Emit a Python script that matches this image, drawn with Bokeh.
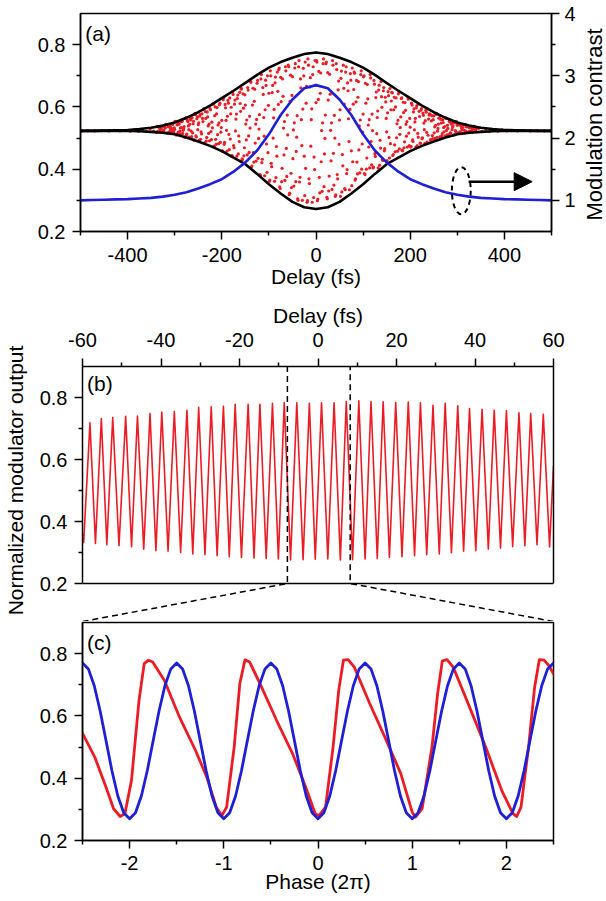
import math
from bokeh.plotting import figure
from bokeh.models import FixedTicker, LinearAxis, Range1d, Label, Span, Arrow, NormalHead
from bokeh.layouts import column, row
from bokeh.embed import file_html
from bokeh.resources import INLINE

FONT = "Liberation Sans"
RED = "#ec1c24"
BLUE = "#1f1fd6"
BLACK = "#000000"
LW = 1.5

# ---------------- panel (a): envelopes, contrast, sampled points ----------------
A_T = [-500, -475, -450, -425, -400, -375, -350, -325, -300, -275, -250, -225, -200,
       -175, -150, -125, -100, -75, -50, -25, 0, 25, 50, 75, 100, 125, 150, 175, 200,
       225, 250, 275, 300, 325, 350, 375, 400, 425, 450, 475, 500]
A_UPPER = [0.523, 0.523, 0.524, 0.525, 0.526, 0.529, 0.533, 0.540, 0.550, 0.565, 0.583,
           0.604, 0.628, 0.652, 0.677, 0.703, 0.726, 0.744, 0.758, 0.770, 0.775,
           0.770, 0.758, 0.744, 0.726, 0.703, 0.677, 0.652, 0.628, 0.604, 0.583,
           0.565, 0.550, 0.540, 0.533, 0.529, 0.526, 0.525, 0.524, 0.523, 0.523]
A_LOWER = [0.523, 0.523, 0.523, 0.523, 0.523, 0.522, 0.520, 0.517, 0.512, 0.502, 0.489,
           0.475, 0.458, 0.437, 0.416, 0.385, 0.352, 0.322, 0.295, 0.278, 0.272,
           0.278, 0.295, 0.322, 0.352, 0.385, 0.416, 0.437, 0.458, 0.475, 0.489,
           0.502, 0.512, 0.517, 0.520, 0.522, 0.523, 0.523, 0.523, 0.523, 0.523]
A_CONTRAST = [1.00, 1.005, 1.01, 1.015, 1.02, 1.03, 1.04, 1.06, 1.09, 1.13, 1.19,
              1.26, 1.34, 1.46, 1.61, 1.80, 2.06, 2.37, 2.62, 2.80, 2.85,
              2.80, 2.62, 2.37, 2.06, 1.80, 1.61, 1.46, 1.34, 1.26, 1.19,
              1.13, 1.09, 1.06, 1.04, 1.03, 1.02, 1.015, 1.01, 1.005, 1.00]

DOT_T = [
    -339, -337, -334, -332, -331, -329, -326, -325, -323, -321, -338, -336, -335, -333, -330, -328, -327, -324, -322, -320,
    -319, -317, -314, -312, -311, -309, -306, -305, -303, -301, -318, -316, -315, -313, -310, -308, -307, -304, -302, -300,
    -299, -297, -294, -292, -291, -289, -286, -285, -283, -281, -298, -296, -295, -293, -290, -288, -287, -284, -282, -280,
    -279, -277, -274, -272, -271, -269, -266, -265, -263, -261, -278, -276, -275, -273, -270, -268, -267, -264, -262, -260,
    -259, -257, -254, -252, -251, -249, -246, -245, -243, -241, -258, -256, -255, -253, -250, -248, -247, -244, -242, -240,
    -239, -237, -234, -232, -231, -229, -226, -225, -223, -221, -238, -236, -235, -233, -230, -228, -227, -224, -222, -220,
    -219, -217, -214, -212, -211, -209, -206, -205, -203, -201, -218, -216, -215, -213, -210, -208, -207, -204, -202, -200,
    -199, -197, -194, -192, -191, -189, -186, -185, -183, -181, -198, -196, -195, -193, -190, -188, -187, -184, -182, -180,
    -179, -177, -174, -172, -171, -169, -166, -165, -163, -161, -178, -176, -175, -173, -170, -168, -167, -164, -162, -160,
    -159, -157, -154, -152, -151, -149, -146, -145, -143, -141, -158, -156, -155, -153, -150, -148, -147, -144, -142, -140,
    -139, -137, -134, -132, -131, -129, -126, -125, -123, -121, -138, -136, -135, -133, -130, -128, -127, -124, -122, -120,
    -119, -117, -114, -112, -111, -109, -106, -105, -103, -101, -118, -116, -115, -113, -110, -108, -107, -104, -102, -100,
    -99, -97, -94, -92, -91, -89, -86, -85, -83, -81, -98, -96, -95, -93, -90, -88, -87, -84, -82, -80,
    -79, -77, -74, -72, -71, -69, -66, -65, -63, -61, -78, -76, -75, -73, -70, -68, -67, -64, -62, -60,
    -59, -57, -54, -52, -51, -49, -46, -45, -43, -41, -58, -56, -55, -53, -50, -48, -47, -44, -42, -40,
    -39, -37, -34, -32, -31, -29, -26, -25, -23, -21, -38, -36, -35, -33, -30, -28, -27, -24, -22, -20,
    -19, -17, -14, -12, -11, -9, -6, -5, -3, -1, -18, -16, -15, -13, -10, -8, -7, -4, -2, 0,
    1, 3, 6, 8, 9, 11, 14, 15, 17, 19, 2, 4, 5, 7, 10, 12, 13, 16, 18, 20,
    21, 23, 26, 28, 29, 31, 34, 35, 37, 39, 22, 24, 25, 27, 30, 32, 33, 36, 38, 40,
    41, 43, 46, 48, 49, 51, 54, 55, 57, 59, 42, 44, 45, 47, 50, 52, 53, 56, 58, 60,
    61, 63, 66, 68, 69, 71, 74, 75, 77, 79, 62, 64, 65, 67, 70, 72, 73, 76, 78, 80,
    81, 83, 86, 88, 89, 91, 94, 95, 97, 99, 82, 84, 85, 87, 90, 92, 93, 96, 98, 100,
    101, 103, 106, 108, 109, 111, 114, 115, 117, 119, 102, 104, 105, 107, 110, 112, 113, 116, 118, 120,
    121, 123, 126, 128, 129, 131, 134, 135, 137, 139, 122, 124, 125, 127, 130, 132, 133, 136, 138, 140,
    141, 143, 146, 148, 149, 151, 154, 155, 157, 159, 142, 144, 145, 147, 150, 152, 153, 156, 158, 160,
    161, 163, 166, 168, 169, 171, 174, 175, 177, 179, 162, 164, 165, 167, 170, 172, 173, 176, 178, 180,
    181, 183, 186, 188, 189, 191, 194, 195, 197, 199, 182, 184, 185, 187, 190, 192, 193, 196, 198, 200,
    201, 203, 206, 208, 209, 211, 214, 215, 217, 219, 202, 204, 205, 207, 210, 212, 213, 216, 218, 220,
    221, 223, 226, 228, 229, 231, 234, 235, 237, 239, 222, 224, 225, 227, 230, 232, 233, 236, 238, 240,
    241, 243, 246, 248, 249, 251, 254, 255, 257, 259, 242, 244, 245, 247, 250, 252, 253, 256, 258, 260,
    261, 263, 266, 268, 269, 271, 274, 275, 277, 279, 262, 264, 265, 267, 270, 272, 273, 276, 278, 280,
    281, 283, 286, 288, 289, 291, 294, 295, 297, 299, 282, 284, 285, 287, 290, 292, 293, 296, 298, 300,
    301, 303, 306, 308, 309, 311, 314, 315, 317, 319, 302, 304, 305, 307, 310, 312, 313, 316, 318, 320,
    321, 323, 326, 328, 329, 331, 334, 335, 337, 339, 322, 324, 325, 327, 330, 332, 333, 336, 338, 340,
    -498, -485, -470, -455, -440, -428, -416, -405, -395, -386, -377, -368, -360, -352, -345,
    345, 352, 360, 368, 377, 386, 395, 405, 416, 428, 440, 455, 470, 485, 498,
]
DOT_Y = [
    0.519, 0.538, 0.521, 0.536, 0.526, 0.531, 0.537, 0.519, 0.523, 0.535, 0.519, 0.537, 0.522, 0.534, 0.530, 0.519, 0.536, 0.525, 0.538, 0.532,
    0.544, 0.516, 0.536, 0.520, 0.542, 0.530, 0.518, 0.545, 0.525, 0.533, 0.544, 0.516, 0.542, 0.517, 0.538, 0.524, 0.532, 0.544, 0.518, 0.528,
    0.554, 0.510, 0.550, 0.513, 0.544, 0.522, 0.534, 0.553, 0.515, 0.530, 0.553, 0.511, 0.542, 0.518, 0.550, 0.532, 0.513, 0.554, 0.525, 0.537,
    0.503, 0.563, 0.513, 0.553, 0.539, 0.503, 0.558, 0.522, 0.565, 0.546, 0.503, 0.565, 0.511, 0.557, 0.527, 0.544, 0.562, 0.505, 0.517, 0.554,
    0.493, 0.579, 0.504, 0.568, 0.527, 0.549, 0.575, 0.496, 0.513, 0.563, 0.494, 0.575, 0.507, 0.562, 0.543, 0.493, 0.570, 0.520, 0.578, 0.553,
    0.593, 0.485, 0.563, 0.502, 0.584, 0.539, 0.491, 0.595, 0.521, 0.551, 0.594, 0.484, 0.585, 0.490, 0.568, 0.515, 0.545, 0.591, 0.495, 0.533,
    0.610, 0.473, 0.600, 0.480, 0.578, 0.511, 0.549, 0.607, 0.486, 0.534, 0.609, 0.474, 0.572, 0.496, 0.598, 0.542, 0.482, 0.612, 0.519, 0.557,
    0.459, 0.623, 0.486, 0.597, 0.557, 0.458, 0.612, 0.512, 0.629, 0.578, 0.458, 0.630, 0.480, 0.608, 0.525, 0.570, 0.621, 0.463, 0.497, 0.599,
    0.442, 0.649, 0.469, 0.622, 0.523, 0.577, 0.638, 0.449, 0.489, 0.611, 0.444, 0.640, 0.476, 0.609, 0.561, 0.442, 0.627, 0.507, 0.647, 0.586,
    0.657, 0.433, 0.596, 0.469, 0.639, 0.545, 0.446, 0.662, 0.507, 0.570, 0.659, 0.431, 0.642, 0.443, 0.606, 0.494, 0.558, 0.654, 0.454, 0.532,
    0.682, 0.407, 0.660, 0.423, 0.618, 0.484, 0.560, 0.676, 0.435, 0.529, 0.679, 0.410, 0.606, 0.453, 0.657, 0.545, 0.426, 0.685, 0.499, 0.575,
    0.383, 0.690, 0.432, 0.640, 0.566, 0.379, 0.669, 0.481, 0.700, 0.605, 0.379, 0.704, 0.421, 0.662, 0.506, 0.591, 0.686, 0.390, 0.453, 0.644,
    0.361, 0.716, 0.408, 0.669, 0.500, 0.592, 0.696, 0.373, 0.442, 0.650, 0.365, 0.700, 0.419, 0.646, 0.565, 0.361, 0.677, 0.473, 0.712, 0.608,
    0.720, 0.343, 0.617, 0.403, 0.690, 0.532, 0.364, 0.729, 0.467, 0.574, 0.725, 0.338, 0.695, 0.360, 0.634, 0.446, 0.553, 0.716, 0.377, 0.510,
    0.734, 0.318, 0.702, 0.341, 0.637, 0.434, 0.549, 0.725, 0.360, 0.503, 0.729, 0.323, 0.618, 0.387, 0.697, 0.526, 0.346, 0.739, 0.457, 0.572,
    0.305, 0.729, 0.374, 0.661, 0.559, 0.300, 0.700, 0.442, 0.744, 0.612, 0.300, 0.749, 0.359, 0.690, 0.476, 0.593, 0.724, 0.315, 0.403, 0.666,
    0.294, 0.754, 0.354, 0.694, 0.474, 0.594, 0.729, 0.309, 0.399, 0.669, 0.299, 0.734, 0.369, 0.664, 0.559, 0.294, 0.704, 0.439, 0.749, 0.614,
    0.749, 0.299, 0.714, 0.324, 0.644, 0.424, 0.549, 0.739, 0.344, 0.499, 0.744, 0.304, 0.624, 0.374, 0.709, 0.524, 0.329, 0.754, 0.449, 0.574,
    0.739, 0.310, 0.622, 0.378, 0.705, 0.525, 0.335, 0.749, 0.451, 0.573, 0.744, 0.305, 0.710, 0.330, 0.641, 0.427, 0.549, 0.734, 0.349, 0.500,
    0.313, 0.739, 0.369, 0.683, 0.480, 0.591, 0.715, 0.327, 0.411, 0.660, 0.318, 0.720, 0.383, 0.655, 0.558, 0.313, 0.692, 0.447, 0.734, 0.609,
    0.338, 0.712, 0.399, 0.652, 0.562, 0.334, 0.686, 0.459, 0.725, 0.609, 0.334, 0.729, 0.386, 0.677, 0.489, 0.592, 0.707, 0.347, 0.424, 0.656,
    0.712, 0.365, 0.685, 0.385, 0.631, 0.462, 0.558, 0.704, 0.400, 0.519, 0.708, 0.369, 0.616, 0.423, 0.681, 0.539, 0.388, 0.716, 0.481, 0.577,
    0.697, 0.386, 0.612, 0.436, 0.672, 0.542, 0.404, 0.704, 0.489, 0.577, 0.700, 0.383, 0.676, 0.400, 0.626, 0.471, 0.559, 0.693, 0.414, 0.524,
    0.404, 0.685, 0.441, 0.648, 0.514, 0.587, 0.670, 0.413, 0.468, 0.633, 0.407, 0.673, 0.450, 0.630, 0.566, 0.404, 0.654, 0.493, 0.682, 0.599,
    0.431, 0.652, 0.466, 0.616, 0.563, 0.428, 0.636, 0.502, 0.659, 0.591, 0.428, 0.662, 0.459, 0.631, 0.520, 0.581, 0.649, 0.436, 0.482, 0.619,
    0.647, 0.444, 0.631, 0.456, 0.600, 0.501, 0.557, 0.642, 0.465, 0.534, 0.645, 0.447, 0.591, 0.478, 0.629, 0.546, 0.458, 0.649, 0.512, 0.568,
    0.627, 0.461, 0.582, 0.488, 0.614, 0.544, 0.471, 0.630, 0.516, 0.563, 0.629, 0.459, 0.615, 0.469, 0.589, 0.506, 0.553, 0.625, 0.476, 0.535,
    0.471, 0.612, 0.489, 0.594, 0.526, 0.563, 0.604, 0.476, 0.503, 0.586, 0.473, 0.606, 0.494, 0.584, 0.552, 0.471, 0.597, 0.515, 0.610, 0.569,
    0.484, 0.590, 0.501, 0.573, 0.548, 0.483, 0.583, 0.518, 0.594, 0.561, 0.483, 0.595, 0.498, 0.580, 0.527, 0.556, 0.589, 0.487, 0.509, 0.574,
    0.578, 0.494, 0.572, 0.498, 0.559, 0.517, 0.541, 0.576, 0.502, 0.531, 0.577, 0.495, 0.555, 0.508, 0.571, 0.536, 0.499, 0.579, 0.522, 0.545,
    0.564, 0.504, 0.548, 0.514, 0.559, 0.534, 0.507, 0.565, 0.524, 0.541, 0.565, 0.503, 0.560, 0.507, 0.550, 0.520, 0.537, 0.563, 0.510, 0.531,
    0.510, 0.554, 0.516, 0.548, 0.527, 0.539, 0.552, 0.511, 0.520, 0.546, 0.510, 0.552, 0.517, 0.545, 0.535, 0.510, 0.549, 0.524, 0.554, 0.541,
    0.516, 0.543, 0.520, 0.539, 0.532, 0.515, 0.542, 0.525, 0.544, 0.536, 0.515, 0.545, 0.519, 0.541, 0.527, 0.534, 0.543, 0.516, 0.522, 0.539,
    0.538, 0.519, 0.536, 0.520, 0.534, 0.524, 0.530, 0.538, 0.521, 0.527, 0.538, 0.519, 0.533, 0.522, 0.536, 0.529, 0.520, 0.538, 0.525, 0.531,
    0.523, 0.524, 0.523, 0.524, 0.523, 0.525, 0.523, 0.525, 0.522, 0.526, 0.522, 0.528, 0.521, 0.530, 0.522,
    0.531, 0.521, 0.529, 0.521, 0.527, 0.522, 0.526, 0.523, 0.525, 0.523, 0.524, 0.523, 0.524, 0.523, 0.523,
]

A_X_TICKS = [-400, -200, 0, 200, 400]
A_X_LABELS = ["-400", "-200", "0", "200", "400"]
A_X_MINOR = [-500, -300, -100, 100, 300, 500]
Y_TICKS = [0.2, 0.4, 0.6, 0.8]
Y_LABELS = ["0.2", "0.4", "0.6", "0.8"]
Y_MINOR = [0.3, 0.5, 0.7]
A_R_TICKS = [1, 2, 3, 4]
A_R_LABELS = ["1", "2", "3", "4"]
A_R_MINOR = [1.5, 2.5, 3.5]

# dashed ellipse marker and arrow pointing to the right axis (delay fs, left-axis units)
MARK_X, MARK_Y, MARK_W, MARK_H = 308.5, 0.331, 40.0, 0.151
ARROW_X0, ARROW_X1, ARROW_Y = 324.0, 459.0, 0.360

# ---------------- panel (b): fringe peaks and troughs ----------------
B_PEAK_T = [-58.1, -55.2, -52.3, -49.0, -46.0, -42.8, -39.8, -36.6, -33.4, -30.4,
            -27.2, -24.1, -21.1, -17.8, -14.8, -11.6, -8.6, -5.4, -2.2, 0.9,
            4.1, 7.2, 10.4, 13.5, 16.6, 19.8, 23.0, 26.1, 29.3, 32.4,
            35.6, 38.6, 41.8, 44.9, 48.0, 51.2, 54.2, 57.4]
B_PEAK_V = [0.718, 0.732, 0.735, 0.739, 0.740, 0.748, 0.753, 0.755, 0.759, 0.768,
            0.770, 0.772, 0.778, 0.778, 0.778, 0.781, 0.784, 0.783, 0.781, 0.783,
            0.783, 0.787, 0.789, 0.787, 0.786, 0.784, 0.785, 0.783, 0.775, 0.781,
            0.773, 0.764, 0.762, 0.759, 0.757, 0.751, 0.748, 0.746]
B_TROUGH_T = [-59.7, -56.7, -53.8, -50.7, -47.5, -44.4, -41.3, -38.2, -35.0, -31.9,
              -28.8, -25.7, -22.6, -19.5, -16.3, -13.2, -10.1, -7.0, -3.8, -0.7,
              2.5, 5.7, 8.8, 12.0, 15.1, 18.2, 21.4, 24.6, 27.7, 30.9,
              34.0, 37.1, 40.2, 43.4, 46.5, 49.6, 52.7, 55.8, 59.0]
B_TROUGH_V = [0.333, 0.329, 0.325, 0.322, 0.319, 0.311, 0.306, 0.304, 0.300, 0.295,
              0.293, 0.290, 0.286, 0.284, 0.282, 0.281, 0.279, 0.276, 0.277, 0.278,
              0.279, 0.276, 0.277, 0.279, 0.281, 0.284, 0.286, 0.290, 0.293, 0.295,
              0.299, 0.304, 0.306, 0.311, 0.314, 0.319, 0.322, 0.325, 0.318]
B_EDGE_T = [-60.0, 60.0]
B_EDGE_V = [0.36, 0.58]
B_X_TICKS = [-60, -40, -20, 0, 20, 40, 60]
B_X_LABELS = ["-60", "-40", "-20", "0", "20", "40", "60"]
B_X_MINOR = [-50, -30, -10, 10, 30, 50]
ZOOM_LO, ZOOM_HI = -7.8, 8.2   # delay window shown in panel (c)

# ---------------- panel (c): phase-domain traces ----------------
C_RED_X = [-2.52, -2.37, -2.25, -2.17, -2.10, -2.05, -1.98, -1.90, -1.845, -1.80, -1.755,
           -1.63, -1.47, -1.30, -1.18, -1.08, -1.02, -0.97, -0.89, -0.83, -0.775, -0.725,
           -0.60, -0.44, -0.27, -0.13, -0.03, 0.01, 0.08, 0.16, 0.22, 0.27, 0.32, 0.385,
           0.55, 0.71, 0.88, 1.00, 1.035, 1.105, 1.21, 1.27, 1.32, 1.37, 1.435,
           1.58, 1.78, 1.95, 2.07, 2.11, 2.155, 2.235, 2.30, 2.35, 2.40, 2.45, 2.52]
C_RED_Y = [0.556, 0.468, 0.371, 0.302, 0.277, 0.286, 0.393, 0.650, 0.768, 0.779, 0.773,
           0.714, 0.596, 0.489, 0.403, 0.307, 0.280, 0.307, 0.500, 0.704, 0.780, 0.773,
           0.693, 0.586, 0.479, 0.371, 0.286, 0.280, 0.307, 0.500, 0.682, 0.779, 0.781, 0.757,
           0.639, 0.532, 0.414, 0.291, 0.275, 0.302, 0.500, 0.672, 0.777, 0.781, 0.757,
           0.650, 0.500, 0.361, 0.286, 0.277, 0.307, 0.500, 0.693, 0.781, 0.779, 0.762, 0.725]
C_BLUE_X = [-2.5, -2.4375, -2.375, -2.3125, -2.25, -2.1875, -2.125, -2.0625,
            -2.0, -1.9375, -1.875, -1.8125, -1.75, -1.6875, -1.625, -1.5625,
            -1.5, -1.4375, -1.375, -1.3125, -1.25, -1.1875, -1.125, -1.0625,
            -1.0, -0.9375, -0.875, -0.8125, -0.75, -0.6875, -0.625, -0.5625,
            -0.5, -0.4375, -0.375, -0.3125, -0.25, -0.1875, -0.125, -0.0625,
            0.0, 0.0625, 0.125, 0.1875, 0.25, 0.3125, 0.375, 0.4375,
            0.5, 0.5625, 0.625, 0.6875, 0.75, 0.8125, 0.875, 0.9375,
            1.0, 1.0625, 1.125, 1.1875, 1.25, 1.3125, 1.375, 1.4375,
            1.5, 1.5625, 1.625, 1.6875, 1.75, 1.8125, 1.875, 1.9375,
            2.0, 2.0625, 2.125, 2.1875, 2.25, 2.3125, 2.375, 2.4375,
            2.5]
C_BLUE_Y = [0.770, 0.751, 0.697, 0.616, 0.520, 0.424, 0.343, 0.289,
            0.270, 0.289, 0.343, 0.424, 0.520, 0.616, 0.697, 0.751,
            0.770, 0.751, 0.697, 0.616, 0.520, 0.424, 0.343, 0.289,
            0.270, 0.289, 0.343, 0.424, 0.520, 0.616, 0.697, 0.751,
            0.770, 0.751, 0.697, 0.616, 0.520, 0.424, 0.343, 0.289,
            0.270, 0.289, 0.343, 0.424, 0.520, 0.616, 0.697, 0.751,
            0.770, 0.751, 0.697, 0.616, 0.520, 0.424, 0.343, 0.289,
            0.270, 0.289, 0.343, 0.424, 0.520, 0.616, 0.697, 0.751,
            0.770, 0.751, 0.697, 0.616, 0.520, 0.424, 0.343, 0.289,
            0.270, 0.289, 0.343, 0.424, 0.520, 0.616, 0.697, 0.751,
            0.770]
C_X_TICKS = [-2, -1, 0, 1, 2]
C_X_LABELS = ["-2", "-1", "0", "1", "2"]
C_X_MINOR = [-2.5, -1.5, -0.5, 0.5, 1.5, 2.5]

# ---------------- layout constants (pixels) ----------------
FRAME_W = 471
BORDER_R = 25
A_TOP, A_FRAME_H, A_BOTTOM = 13, 218, 65
A_H = A_TOP + A_FRAME_H + A_BOTTOM          # 296
B_TOP, B_MAIN_PX, B_GAP_PX = 70, 217, 38
B_H = B_TOP + B_MAIN_PX + B_GAP_PX          # 325
C_TOP, C_FRAME_H, C_BOTTOM = 1, 218, 59
C_H = C_TOP + C_FRAME_H + C_BOTTOM          # 278
B_YLO = 0.2 - 0.7 * B_GAP_PX / B_MAIN_PX
LLAB_W = 31                                  # strip holding the shared left title
RLAB_W = 30                                  # strip holding the right-hand title


def style_axis(ax, ticks, minors, labels, standoff, label_standoff=5):
    ax.ticker = FixedTicker(ticks=ticks, minor_ticks=minors)
    ax.major_label_overrides = {t: s for t, s in zip(ticks, labels)}
    ax.major_label_text_font = FONT
    ax.major_label_text_font_size = "20px"
    ax.major_label_text_color = BLACK
    ax.major_label_standoff = standoff
    ax.axis_label_text_font = FONT
    ax.axis_label_text_font_size = "21px"
    ax.axis_label_text_font_style = "normal"
    ax.axis_label_text_color = BLACK
    ax.axis_label_standoff = label_standoff
    ax.axis_line_color = BLACK
    ax.axis_line_width = LW
    ax.major_tick_line_color = BLACK
    ax.minor_tick_line_color = BLACK
    ax.major_tick_line_width = LW
    ax.minor_tick_line_width = LW
    ax.major_tick_in = 0
    ax.major_tick_out = 8
    ax.minor_tick_in = 0
    ax.minor_tick_out = 4


def base_fig(border_left, **kw):
    p = figure(frame_width=FRAME_W, min_border_left=border_left, min_border_right=BORDER_R,
               output_backend="svg", toolbar_location=None, title=None, **kw)
    p.grid.visible = False
    p.background_fill_color = "white"
    p.border_fill_color = "white"
    p.outline_line_color = BLACK
    p.outline_line_width = LW
    return p


def title_strip(text, width, frame_top, frame_h, total_h, standoff, size):
    """Narrow figure whose only content is a left-axis title (reads bottom-to-top)."""
    s = figure(frame_width=1, frame_height=frame_h, x_range=(0, 1), y_range=(0, 1),
               min_border_left=width - 1, min_border_right=0, min_border_top=frame_top,
               min_border_bottom=total_h - frame_top - frame_h, x_axis_type=None,
               output_backend="svg", toolbar_location=None, title=None)
    s.grid.visible = False
    s.outline_line_color = None
    s.background_fill_color = "white"
    s.border_fill_color = "white"
    ax = s.yaxis[0]
    ax.ticker = FixedTicker(ticks=[])
    ax.axis_line_color = None
    ax.major_tick_line_color = None
    ax.minor_tick_line_color = None
    ax.major_tick_in = 0
    ax.major_tick_out = 0
    ax.minor_tick_in = 0
    ax.minor_tick_out = 0
    ax.major_label_text_font_size = "0px"
    ax.axis_label = text
    ax.axis_label_text_font = FONT
    ax.axis_label_text_font_size = size
    ax.axis_label_text_font_style = "normal"
    ax.axis_label_text_color = BLACK
    ax.axis_label_standoff = standoff
    return s


def panel_label(p, x, y, text):
    p.add_layout(Label(x=x, y=y, text=text, text_font=FONT, text_font_size="21px",
                       text_align="left", text_baseline="top", text_color=BLACK))


# ---------------- figure (a) ----------------
pa = base_fig(80, frame_height=A_FRAME_H, x_range=(-500, 500), y_range=(0.2, 0.9),
              min_border_top=A_TOP, min_border_bottom=A_BOTTOM)
pa.extra_y_ranges = {"contrast": Range1d(start=0.5, end=4.0)}
style_axis(pa.xaxis[0], A_X_TICKS, A_X_MINOR, A_X_LABELS, 8, 0)
pa.xaxis[0].axis_label = "Delay (fs)"
style_axis(pa.yaxis[0], Y_TICKS, Y_MINOR, Y_LABELS, 7)
rax = LinearAxis(y_range_name="contrast")
style_axis(rax, A_R_TICKS, A_R_MINOR, A_R_LABELS, 5)
pa.add_layout(rax, "right")

pa.scatter(DOT_T, DOT_Y, size=3.2, color=RED, line_color=None)
pa.line(A_T, A_UPPER, line_color=BLACK, line_width=2.6, line_join="round")
pa.line(A_T, A_LOWER, line_color=BLACK, line_width=2.6, line_join="round")
pa.line(A_T, A_CONTRAST, line_color=BLUE, line_width=2.6, line_join="round",
        y_range_name="contrast")
pa.ellipse(x=[MARK_X], y=[MARK_Y], width=[MARK_W], height=[MARK_H], fill_color=None,
           line_color=BLACK, line_width=2, line_dash="5 4")
pa.add_layout(Arrow(end=NormalHead(size=18, fill_color=BLACK, line_color=BLACK),
                    x_start=ARROW_X0, y_start=ARROW_Y, x_end=ARROW_X1, y_end=ARROW_Y,
                    line_color=BLACK, line_width=2.5))
panel_label(pa, -490, 0.874, "(a)")

# right-hand title "Modulation contrast" (strip to the right of panel a)
rlab = title_strip("Modulation contrast", RLAB_W, 0, 222, A_H, 4, "22px")

# ---------------- figure (b) ----------------
pb = base_fig(80 - LLAB_W, frame_height=B_MAIN_PX + B_GAP_PX, x_range=(-60, 60),
              y_range=(B_YLO, 0.9), x_axis_location="above", min_border_top=B_TOP,
              min_border_bottom=0)
pb.outline_line_color = None
style_axis(pb.xaxis[0], B_X_TICKS, B_X_MINOR, B_X_LABELS, 12, 3)
pb.xaxis[0].axis_label = "Delay (fs)"
style_axis(pb.yaxis[0], Y_TICKS, Y_MINOR, Y_LABELS, 7)
pb.yaxis[0].bounds = (0.2, 0.9)
redge = LinearAxis(bounds=(0.2, 0.9), ticker=FixedTicker(ticks=[]), major_tick_out=0,
                   minor_tick_out=0, major_label_text_font_size="0px",
                   axis_line_color=BLACK, axis_line_width=LW)
pb.add_layout(redge, "right")
pb.add_layout(Span(location=0.2, dimension="width", line_color=BLACK, line_width=LW))

pts = sorted(zip(B_PEAK_T + B_TROUGH_T + B_EDGE_T, B_PEAK_V + B_TROUGH_V + B_EDGE_V))
pb.line([t for t, _ in pts], [v for _, v in pts], line_color=RED, line_width=1.6,
        line_join="round")
pb.line([-60, ZOOM_LO, ZOOM_LO], [B_YLO, 0.2, 0.9], line_color=BLACK, line_width=1.5,
        line_dash="6 4")
pb.line([60, ZOOM_HI, ZOOM_HI], [B_YLO, 0.2, 0.9], line_color=BLACK, line_width=1.5,
        line_dash="6 4")
panel_label(pb, -58.85, 0.883, "(b)")

# ---------------- figure (c) ----------------
pc = base_fig(80 - LLAB_W, frame_height=C_FRAME_H, x_range=(-2.5, 2.5), y_range=(0.2, 0.9),
              min_border_top=C_TOP, min_border_bottom=C_BOTTOM)
style_axis(pc.xaxis[0], C_X_TICKS, C_X_MINOR, C_X_LABELS, 7, -3)
pc.xaxis[0].axis_label = "Phase (2\u03c0)"
style_axis(pc.yaxis[0], Y_TICKS, Y_MINOR, Y_LABELS, 7)
pc.line(C_RED_X, C_RED_Y, line_color=RED, line_width=2.8, line_join="round")
pc.line(C_BLUE_X, C_BLUE_Y, line_color=BLUE, line_width=2.8, line_join="round")
panel_label(pc, -2.452, 0.873, "(c)")

# shared left title "Normalized modulator output", centred near the middle of panel (b)
llab = title_strip("Normalized modulator output", LLAB_W, 0, 368, B_H + C_H, 6, "21px")

layout = column(row(pa, rlab), row(llab, column(pb, pc)))
open("out.html", "w").write(file_html(layout, INLINE))
